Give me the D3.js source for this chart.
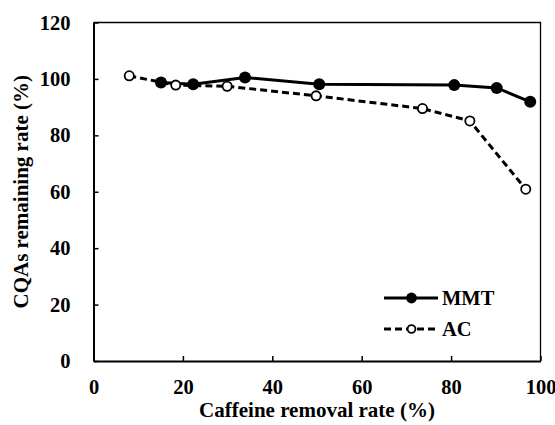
<!DOCTYPE html>
<html>
<head>
<meta charset="utf-8">
<script src="https://cdn.jsdelivr.net/npm/d3@7"></script>
<style>
  body { margin: 0; background: #fff; }
  svg { display: block; }
  svg text { font-family: 'Liberation Serif', 'Times New Roman', serif; font-weight: bold; font-size: 20.5px; }
  svg text.title { font-size: 21px; }
</style>
</head>
<body>
<div id="chart"></div>
<script>
// caffeine removal rate (%) vs CQAs remaining rate (%)
var mmtX = [15.1, 22.3, 33.9, 50.5, 80.7, 90.2, 97.7];
var mmtY = [98.7, 98.1, 100.5, 98.1, 97.8, 96.8, 91.9];
var acX = [8.0, 18.4, 29.9, 49.8, 73.6, 84.2, 96.7];
var acY = [101.1, 97.8, 97.4, 94.0, 89.5, 85.1, 60.9];
var xTicks = [0, 20, 40, 60, 80, 100];
var yTicks = [0, 20, 40, 60, 80, 100, 120];
var seriesNames = ["MMT", "AC"];

var width = 555,
    height = 425;

var x = d3.scaleLinear().domain([0, 100]).range([93.5, 540.5]);
var y = d3.scaleLinear().domain([0, 120]).range([361, 22.5]);

var svg = d3.select("#chart").append("svg")
    .attr("width", width)
    .attr("height", height);

// frame (top + right)
svg.append("path")
    .attr("d", "M" + x(0) + "," + y(120) + "H" + x(100) + "V" + y(0))
    .attr("fill", "none")
    .attr("stroke", "#000")
    .attr("stroke-width", 1.3);

var xAxis = svg.append("g")
    .attr("transform", "translate(0," + y(0) + ")")
    .call(d3.axisBottom(x).tickValues(xTicks).tickSizeInner(-5).tickSizeOuter(0).tickPadding(18));
var yAxis = svg.append("g")
    .attr("transform", "translate(" + x(0) + ",0)")
    .call(d3.axisLeft(y).tickValues(yTicks).tickSizeInner(-5).tickSizeOuter(0).tickPadding(23));

[xAxis, yAxis].forEach(function (g) {
    g.attr("font-family", null).attr("font-size", null);
    g.select(".domain").attr("stroke", "#000").attr("stroke-width", 2);
    g.selectAll(".tick line").attr("stroke", "#000").attr("stroke-width", 1.5);
    g.selectAll(".tick text").attr("fill", "#000");
});

// axis titles
svg.append("text")
    .attr("class", "title")
    .attr("x", (x(0) + x(100)) / 2)
    .attr("y", 417)
    .attr("text-anchor", "middle")
    .text("Caffeine removal rate (%)");

svg.append("text")
    .attr("class", "title")
    .attr("transform", "translate(28," + (y(0) + y(120)) / 2 + ") rotate(-90)")
    .attr("text-anchor", "middle")
    .text("CQAs remaining rate (%)");

var line = d3.line().x(d => x(d[0])).y(d => y(d[1]));

var mmt = mmtX.map((v, i) => [v, mmtY[i]]);
var ac = acX.map((v, i) => [v, acY[i]]);

svg.append("path")
    .datum(mmt)
    .attr("d", line)
    .attr("fill", "none")
    .attr("stroke", "#000")
    .attr("stroke-width", 3);
svg.append("g").selectAll("circle")
    .data(mmt)
    .enter().append("circle")
    .attr("cx", d => x(d[0]))
    .attr("cy", d => y(d[1]))
    .attr("r", 6)
    .attr("fill", "#000");

svg.append("path")
    .datum(ac)
    .attr("d", line)
    .attr("fill", "none")
    .attr("stroke", "#000")
    .attr("stroke-width", 3)
    .attr("stroke-dasharray", "7,4");
svg.append("g").selectAll("circle")
    .data(ac)
    .enter().append("circle")
    .attr("cx", d => x(d[0]))
    .attr("cy", d => y(d[1]))
    .attr("r", 4.6)
    .attr("fill", "#fff")
    .attr("stroke", "#000")
    .attr("stroke-width", 1.8);

// legend
var legend = svg.append("g").selectAll("g")
    .data(seriesNames)
    .enter().append("g")
    .attr("transform", (d, i) => "translate(384," + (298 + i * 31) + ")");
legend.append("line")
    .attr("x1", 0).attr("x2", 54)
    .attr("stroke", "#000")
    .attr("stroke-width", 3)
    .attr("stroke-dasharray", (d, i) => i ? "7,4" : null);
legend.append("circle")
    .attr("cx", 27.5)
    .attr("r", (d, i) => i ? 3.9 : 5.4)
    .attr("fill", (d, i) => i ? "#fff" : "#000")
    .attr("stroke", "#000")
    .attr("stroke-width", (d, i) => i ? 1.8 : 0);
legend.append("text")
    .attr("x", 58)
    .attr("y", 7)
    .text(d => d);
</script>
</body>
</html>
